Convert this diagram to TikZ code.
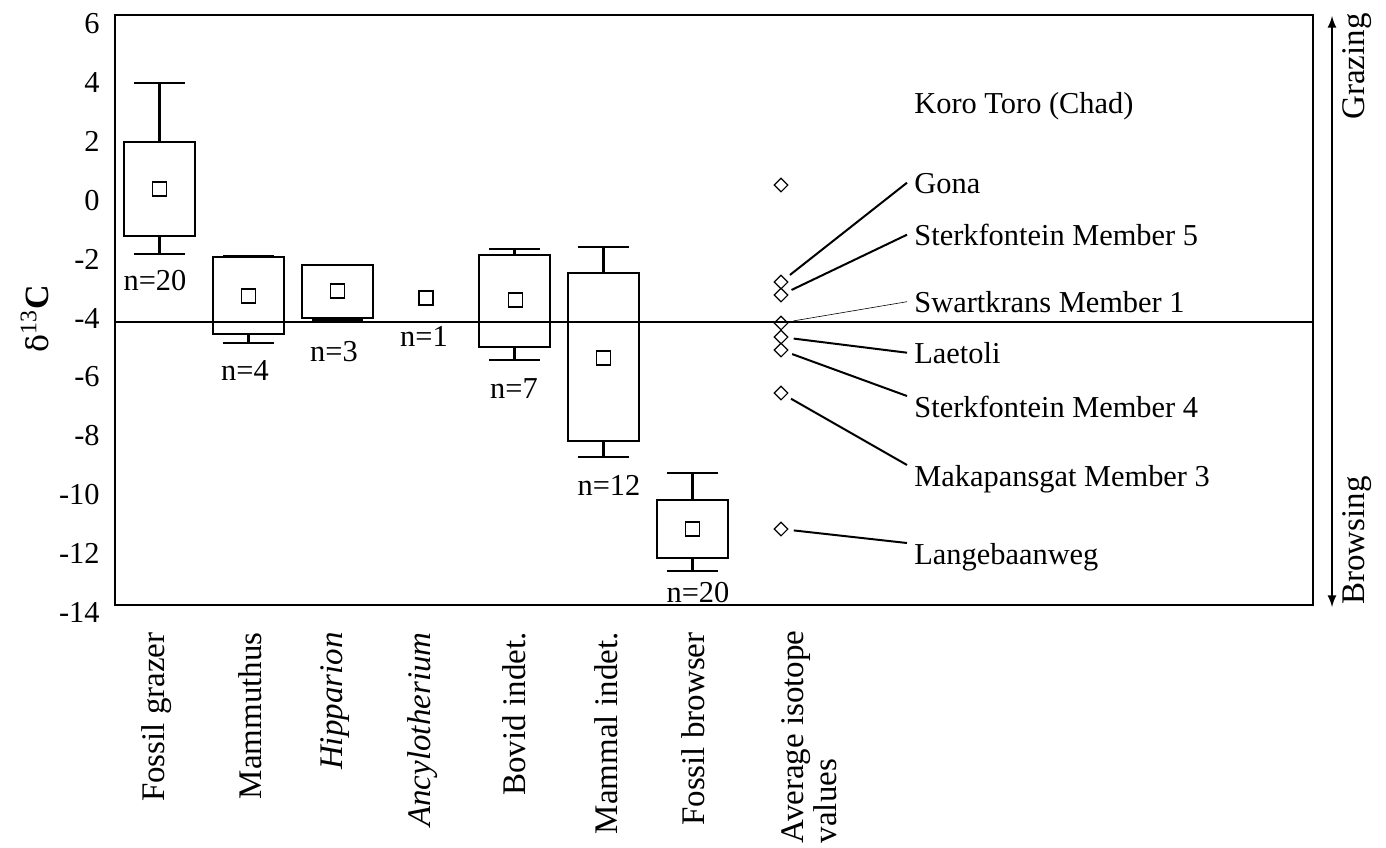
\documentclass[tikz,border=0pt]{standalone}
\usepackage{fontspec}
\setmainfont{Liberation Serif}
\newfontfamily\deltafont{DejaVu Serif}
\usetikzlibrary{shapes.geometric}
\tikzset{>=latex}

\begin{document}
\begin{tikzpicture}[x=0.5pt, y=-0.5pt]

	\tikzstyle{box_line} = [line width=1.2pt]
	\tikzstyle{mean_mark} = [rectangle, draw=black, line width=0.55pt, minimum size=7pt, inner sep=0pt]
	\tikzstyle{site_mark} = [diamond, aspect=1, draw=black, line width=0.55pt, minimum width=7pt, minimum height=7pt, inner sep=0pt]
	\tikzstyle{site_label} = [anchor=base west, inner xsep=3.5pt, inner ysep=0pt, text height=10.3pt, text depth=0pt, font=\fontsize{15.2}{18}\selectfont]
	\tikzstyle{count_label} = [anchor=base, inner sep=0pt, font=\fontsize{15.2}{18}\selectfont]
	\tikzstyle{tick_label} = [anchor=east, inner sep=0pt, font=\fontsize{15.2}{18}\selectfont]
	\tikzstyle{cat_label} = [rotate=90, anchor=east, inner sep=0pt, align=left, font=\fontsize{16.5}{16.5}\selectfont]
	\tikzstyle{leader} = [line width=1pt, shorten <=3pt]

	\useasboundingbox (0,0) rectangle (1386,847);

%------------------------------------------------------------
	\draw[box_line] (115,15) rectangle (1313,605);
	\draw[line width=0.6pt] (115,322) -- (1313,322);

	\node[tick_label] (t6)   at (100,24)    {6};
	\node[tick_label] (t4)   at (100,82.8)  {4};
	\node[tick_label] (t2)   at (100,141.6) {2};
	\node[tick_label] (t0)   at (100,200.4) {0};
	\node[tick_label] (tm2)  at (100,259.2) {-2};
	\node[tick_label] (tm4)  at (100,318)   {-4};
	\node[tick_label] (tm6)  at (100,376.8) {-6};
	\node[tick_label] (tm8)  at (100,435.6) {-8};
	\node[tick_label] (tm10) at (100,494.4) {-10};
	\node[tick_label] (tm12) at (100,553.2) {-12};
	\node[tick_label] (tm14) at (100,612)   {-14};

	\node[rotate=90, font=\fontsize{17}{20}\selectfont] (ytitle) at (35,319) {{\deltafont\fontsize{15}{18}\selectfont δ}\textsuperscript{13}\textbf{C}};

%------------------------------------------------------------
	\draw[box_line] (124,142) rectangle (195,236);
	\draw[box_line] (159.5,142) -- (159.5,83) (134,83) -- (185,83);
	\draw[box_line] (159.5,236) -- (159.5,254) (134,254) -- (185,254);
	\node[mean_mark] (m1) at (159.5,189) {};
	\node[count_label] (n1) at (155,290) {n=20};

	\draw[box_line] (213,257) rectangle (284,334);
	\draw[box_line] (223,256) -- (274,256);
	\draw[box_line] (248.5,334) -- (248.5,343) (223,343) -- (274,343);
	\node[mean_mark] (m2) at (248.5,296) {};
	\node[count_label] (n2) at (245,380) {n=4};

	\draw[box_line] (302,265) rectangle (373,318);
	\draw[box_line] (312,319.5) -- (363,319.5);
	\node[mean_mark] (m3) at (337.5,291) {};
	\node[count_label] (n3) at (334,361) {n=3};

	\node[mean_mark] (m4) at (426,298) {};
	\node[count_label] (n4) at (424,346) {n=1};

	\draw[box_line] (479,255) rectangle (550,347);
	\draw[box_line] (514.5,255) -- (514.5,249) (489,249) -- (540,249);
	\draw[box_line] (514.5,347) -- (514.5,360) (489,360) -- (540,360);
	\node[mean_mark] (m5) at (515.5,300) {};
	\node[count_label] (n5) at (514,398) {n=7};

	\draw[box_line] (568,273) rectangle (639,441);
	\draw[box_line] (603.5,273) -- (603.5,247) (578,247) -- (629,247);
	\draw[box_line] (603.5,441) -- (603.5,457) (578,457) -- (629,457);
	\node[mean_mark] (m6) at (603.5,358) {};
	\node[count_label] (n6) at (609,495) {n=12};

	\draw[box_line] (657,500) rectangle (728,558);
	\draw[box_line] (692.5,500) -- (692.5,473) (667,473) -- (718,473);
	\draw[box_line] (692.5,558) -- (692.5,571) (667,571) -- (718,571);
	\node[mean_mark] (m7) at (692.5,529) {};
	\node[count_label] (n7) at (698,602) {n=20};

%------------------------------------------------------------
	\node[site_mark] (d1) at (781,185) {};
	\node[site_mark] (d2) at (781,282) {};
	\node[site_mark] (d3) at (781,295) {};
	\node[site_mark] (d4) at (781,323) {};
	\node[site_mark] (d5) at (781,337) {};
	\node[site_mark] (d6) at (781,350) {};
	\node[site_mark] (d7) at (781,393) {};
	\node[site_mark] (d8) at (781,529) {};

	\node[site_label] (koro)  at (907,113) {Koro Toro (Chad)};
	\node[site_label] (gona)  at (907,193) {Gona};
	\node[site_label] (stf5)  at (907,245) {Sterkfontein Member 5};
	\node[site_label] (swk1)  at (907,312) {Swartkrans Member 1};
	\node[site_label] (laet)  at (907,363) {Laetoli};
	\node[site_label] (stf4)  at (907,417) {Sterkfontein Member 4};
	\node[site_label] (mak3)  at (907,486) {Makapansgat Member 3};
	\node[site_label] (lange) at (907,564) {Langebaanweg};

	\path[leader] (d2) edge (gona.west);
	\path[leader] (d3) edge (stf5.west);
	\path[leader, line width=0.3pt] (d4) edge (swk1.west);
	\path[leader] (d5) edge (laet.west);
	\path[leader] (d6) edge (stf4.north west);
	\path[leader] (d7) edge (mak3.north west);
	\path[leader] (d8) edge (lange.north west);

%------------------------------------------------------------
	\node[cat_label] (c1) at (157,632) {Fossil grazer};
	\node[cat_label] (c2) at (250,632) {Mammuthus};
	\node[cat_label] (c3) at (335,632) {\textit{Hipparion}};
	\node[cat_label] (c4) at (423,632) {\textit{Ancylotherium}};
	\node[cat_label] (c5) at (514,632) {Bovid indet.};
	\node[cat_label] (c6) at (606,632) {Mammal indet.};
	\node[cat_label] (c7) at (693,632) {Fossil browser};
	\node[cat_label] (c8) at (809,630) {Average isotope\\values};

%------------------------------------------------------------
	\coordinate (graze)  at (1332,16);
	\coordinate (browse) at (1332,607);
	\draw[<->, line width=1pt] (browse) -- (graze);

	\node[cat_label] (grazing) at (1357,13) {Grazing};
	\node[cat_label, anchor=west] (browsing) at (1357,605) {Browsing};

\end{tikzpicture}
\end{document}
